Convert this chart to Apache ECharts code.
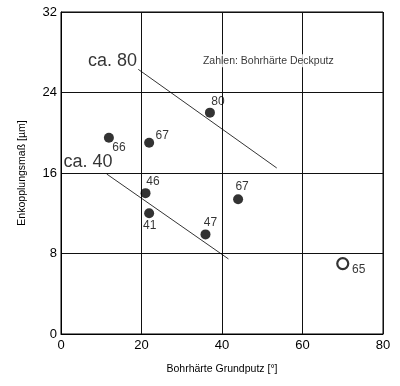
<!DOCTYPE html>
<html><head><meta charset="utf-8">
<script src="https://cdn.jsdelivr.net/npm/echarts@6/dist/echarts.min.js"></script>
<style>html,body{margin:0;padding:0;background:#fff}#c{width:400px;height:386px}</style>
</head><body><div id="c"></div>
<script>
// Data
const xTicks = [0, 20, 40, 60, 80];
const yTicks = [0, 8, 16, 24, 32];
const filledX = [11.9, 21.9, 37.0, 21.0, 21.9, 35.9, 44.0];
const filledY = [19.5, 19.0, 22.0, 14.0, 12.0, 9.9, 13.4];
const filledLabels = ['66', '67', '80', '46', '41', '47', '67'];
const openX = [70.0];
const openY = [7.0];
const openLabels = ['65'];
const line80X = [19.2, 53.6];
const line80Y = [26.3, 16.5];
const line40X = [11.35, 41.6];
const line40Y = [15.9, 7.46];
const noteTexts = ['ca. 80', 'ca. 40'];
const noteX = [12.8, 6.7];
const noteY = [27.1, 17.1];
const legendNote = 'Zahlen: Bohrhärte Deckputz';
const legendNoteX = [51.5];
const legendNoteY = [27.15];

// label offsets (style)
const filledOffsets = [[10, 10], [13, -7], [8, -11], [7.5, -11], [0.5, 12], [5, -12], [4, -12]];
const openOffsets = [[16, 6]];

const font = 'Arial, "Liberation Sans", sans-serif';
const chart = echarts.init(document.getElementById('c'), null, {renderer: 'canvas'});
chart.setOption({
  animation: false,
  backgroundColor: '#fff',
  grid: {left: 61, right: 17, top: 12, bottom: 52, show: true, borderColor: '#000', borderWidth: 1},
  xAxis: {
    type: 'value', min: xTicks[0], max: xTicks[xTicks.length - 1], interval: 20,
    name: 'Bohrhärte Grundputz [°]', nameLocation: 'middle', nameGap: 30,
    nameTextStyle: {fontFamily: font, fontSize: 10.5, color: '#000'},
    axisLine: {show: true, lineStyle: {color: '#000'}}, axisTick: {show: false},
    axisLabel: {fontFamily: font, fontSize: 13, color: '#000', margin: 5},
    splitLine: {show: true, lineStyle: {color: '#111', width: 1}}
  },
  yAxis: {
    type: 'value', min: yTicks[0], max: yTicks[yTicks.length - 1], interval: 8,
    name: 'Enkopplungsmaß [µm]', nameLocation: 'middle', nameGap: 33,
    nameTextStyle: {fontFamily: font, fontSize: 10.5, color: '#000'},
    axisLine: {show: true, lineStyle: {color: '#000'}}, axisTick: {show: false},
    axisLabel: {fontFamily: font, fontSize: 13, color: '#000', margin: 4},
    splitLine: {show: true, lineStyle: {color: '#111', width: 1}}
  },
  series: [
    {type: 'line', data: line80X.map((x, i) => [x, line80Y[i]]), symbol: 'none',
     lineStyle: {color: '#000', width: 0.8}, silent: true, z: 3},
    {type: 'line', data: line40X.map((x, i) => [x, line40Y[i]]), symbol: 'none',
     lineStyle: {color: '#000', width: 0.8}, silent: true, z: 3},
    {type: 'scatter', symbol: 'circle', symbolSize: 10, z: 5,
     itemStyle: {color: '#000'},
     data: filledX.map((x, i) => ({value: [x, filledY[i]],
       label: {show: true, formatter: filledLabels[i], position: 'inside', offset: filledOffsets[i],
         fontFamily: font, fontSize: 12, color: '#000'}}))},
    {type: 'scatter', symbol: 'circle', symbolSize: 11, z: 5,
     itemStyle: {color: '#fff', borderColor: '#000', borderWidth: 2.2},
     data: openX.map((x, i) => ({value: [x, openY[i]],
       label: {show: true, formatter: openLabels[i], position: 'inside', offset: openOffsets[i],
         fontFamily: font, fontSize: 12, color: '#000'}}))},
    {type: 'scatter', symbolSize: 0, z: 6, silent: true,
     data: noteX.map((x, i) => ({value: [x, noteY[i]],
       label: {show: true, formatter: noteTexts[i], position: 'inside',
         fontFamily: font, fontSize: 18, color: '#000', backgroundColor: '#fff', padding: [0, 1]}}))},
    {type: 'scatter', symbolSize: 0, z: 6, silent: true,
     data: legendNoteX.map((x, i) => ({value: [x, legendNoteY[i]],
       label: {show: true, formatter: legendNote, position: 'inside',
         fontFamily: font, fontSize: 10.5, color: '#000', backgroundColor: '#fff', padding: [1, 1]}}))}
  ]
});
</script></body></html>
